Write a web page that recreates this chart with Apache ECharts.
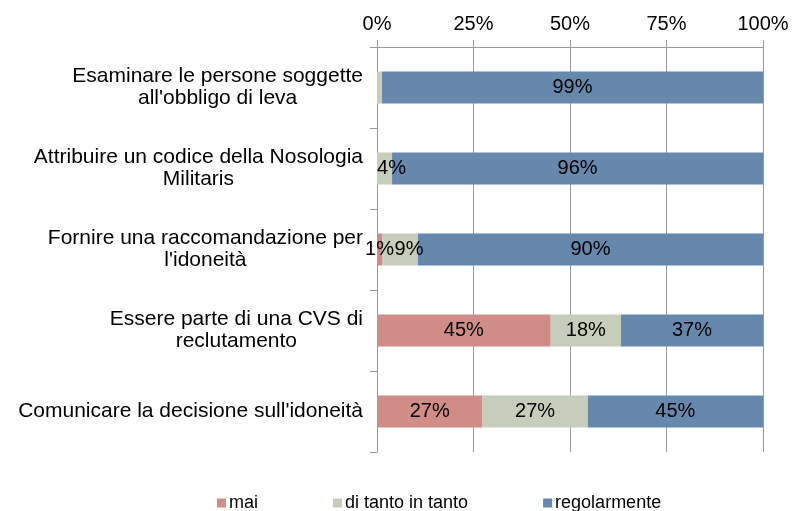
<!DOCTYPE html>
<html>
<head>
<meta charset="utf-8">
<script src="https://cdn.jsdelivr.net/npm/echarts@6/dist/echarts.min.js"></script>
<style>
  html, body { margin: 0; padding: 0; background: #fff; }
  #myChart { width: 793px; height: 511px; }
</style>
</head>
<body>
<div id="myChart"></div>
<script>
// categories, top to bottom
let categories = [
  'Esaminare le persone soggette\nall\'obbligo di leva',
  'Attribuire un codice della Nosologia\nMilitaris',
  'Fornire una raccomandazione per\nl\'idoneità',
  'Essere parte di una CVS di\nreclutamento',
  'Comunicare la decisione sull\'idoneità'
]
let seriesNames = ['mai', 'di tanto in tanto', 'regolarmente']
let maiData = [0, 0, 1.3, 45.0, 27.3]
let ditantoData = [1.3, 3.9, 9.3, 18.2, 27.3]
let regolarmenteData = [98.7, 96.1, 89.4, 36.8, 45.4]
let regolarmenteLabels = ['99%', '96%', '90%', '37%', '45%']
let maiLabels = ['', '', '1%', '45%', '27%']
let ditantoLabels = ['', '4%', '9%', '18%', '27%']
let tickLabels = ['0%', '25%', '50%', '75%', '100%']
let colors = ['#D08C86', '#C6CDBA', '#6788AD']

let font = 'Liberation Sans, Arial, sans-serif'

function makeData (values, labels) {
  let out = []
  for (let i in values) {
    out.push({ value: values[i], labelText: labels[i] })
  }
  return out
}

let dataSets = [
  makeData(maiData, maiLabels),
  makeData(ditantoData, ditantoLabels),
  makeData(regolarmenteData, regolarmenteLabels)
]
// narrow segments: labels pushed right so they don't overlap
dataSets[1][1].label = { offset: [7, 0] }
dataSets[1][2].label = { offset: [9, 0] }

let series = []
for (let i in seriesNames) {
  series.push({
    name: seriesNames[i],
    type: 'bar',
    stack: 'total',
    barWidth: 32,
    itemStyle: { color: colors[i] },
    label: {
      show: true,
      position: 'inside',
      color: '#000',
      fontFamily: font,
      fontSize: 20,
      formatter: function (p) { return p.data.labelText }
    },
    data: dataSets[i]
  })
}

let myChart = echarts.init(document.getElementById('myChart'))
myChart.setOption({
  animation: false,
  textStyle: { fontFamily: font },
  legend: {
    top: 489,
    left: 212,
    itemWidth: 9,
    itemHeight: 9,
    itemGap: 75,
    icon: 'rect',
    textStyle: { fontSize: 18, color: '#000', fontFamily: font, padding: [0, 0, 0, -2] },
    data: seriesNames
  },
  grid: { left: 377, right: 30, top: 47, bottom: 59, containLabel: false },
  xAxis: {
    type: 'value',
    position: 'top',
    min: 0,
    max: 100,
    interval: 25,
    axisLine: { show: true, lineStyle: { color: '#999' } },
    axisTick: { show: true, inside: false, length: 7, lineStyle: { color: '#999' } },
    splitLine: { show: true, lineStyle: { color: '#999' } },
    axisLabel: {
      color: '#000',
      fontSize: 20,
      fontFamily: font,
      margin: 13,
      formatter: function (v) { return tickLabels[v / 25] }
    }
  },
  yAxis: {
    type: 'category',
    inverse: true,
    data: categories,
    axisLine: { show: true, lineStyle: { color: '#999' } },
    axisTick: { show: true, length: 7, lineStyle: { color: '#999' } },
    axisLabel: {
      color: '#000',
      fontSize: 21,
      fontFamily: font,
      margin: 14,
      lineHeight: 22,
      formatter: function (v) {
        return v.split('\n').map(function (s) { return '{c|' + s + '}' }).join('\n')
      },
      rich: {
        c: { align: 'center', fontSize: 21, fontFamily: font, color: '#000', lineHeight: 22 }
      }
    }
  },
  series: series
})
</script>
</body>
</html>
